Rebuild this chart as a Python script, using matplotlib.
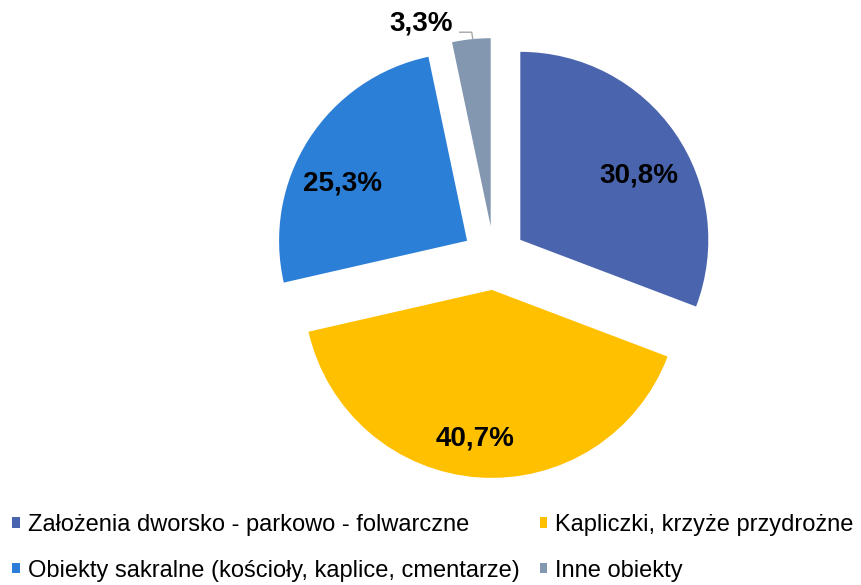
import numpy as np
import matplotlib
matplotlib.use("Agg")
import matplotlib.pyplot as plt

labels = ["Założenia dworsko - parkowo - folwarczne",
          "Kapliczki, krzyże przydrożne",
          "Obiekty sakralne (kościoły, kaplice, cmentarze)",
          "Inne obiekty"]
values = [30.8, 40.7, 25.3, 3.3]
colors = ["#4A65AD", "#FFC000", "#2B7FD6", "#8497B0"]

plt.rcParams['font.family'] = ['Liberation Sans', 'DejaVu Sans']

W, H = 861, 585
R = 188.0          # pie radius in pixels
cx, cy = 494, 258  # centre in pixels (from top)

fig = plt.figure(figsize=(W / 100, H / 100), dpi=100)
ax = fig.add_axes([0, 0, 1, 1])

wedges, texts, autotexts = ax.pie(
    values, colors=colors, startangle=90, counterclock=False,
    explode=[0.17] * 4, radius=1.0,
    autopct=lambda p: ("%.1f%%" % p).replace(".", ","),
    pctdistance=0.74,
    textprops=dict(fontsize=20, fontweight="bold", color="black"))

# nudge the inside labels (pixels), like the original
nudge = [(4, 15), (-7, 10), (-7, 18)]
for t, (dx, dy) in zip(autotexts[:3], nudge):
    x, y = t.get_position()
    t.set_position((x + dx / R, y - dy / R))

# small slice: label outside with leader line
w = wedges[3]
tip = np.array(w.center)
autotexts[3].set_position((tip[0] - 70 / R, tip[1] + 203 / R))
x0, y0 = tip[0] - 31 / R, tip[1] + 194 / R
ax.plot([x0, x0 + 12 / R, x0 + 13 / R], [y0, y0, y0 - 6 / R],
        color="#A6A6A6", lw=1)

ax.set_xlim(-cx / R, (W - cx) / R)
ax.set_ylim(-(H - cy) / R, cy / R)
ax.set_aspect("auto")
ax.axis("off")

order = [0, 2, 1, 3]
leg = fig.legend([wedges[i] for i in order], [labels[i] for i in order],
                 ncol=2, loc="upper left", bbox_to_anchor=(12 / W, 1 - 514 / H),
                 frameon=False, fontsize=17, handlelength=0.32,
                 handleheight=0.32, handletextpad=0.35, columnspacing=0.85,
                 labelspacing=1.0, borderpad=0, borderaxespad=0)

fig.savefig("out.png", dpi=100)
